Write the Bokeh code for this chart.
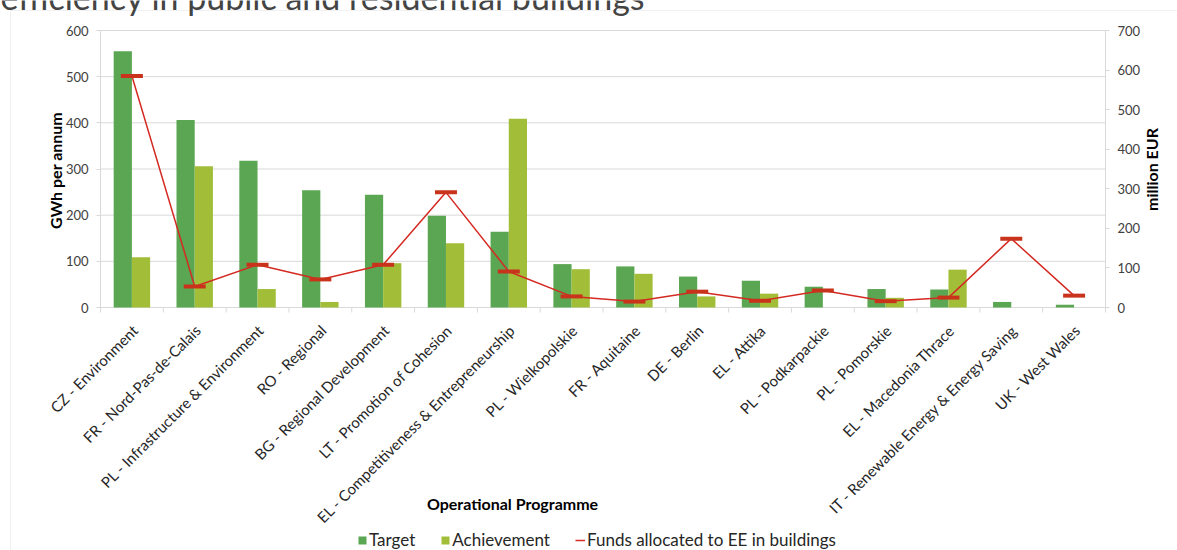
import math
from bokeh.plotting import figure
from bokeh.models import (Range1d, LinearAxis, FixedTicker, ColumnDataSource,
                          Legend, LegendItem, Label, BoxAnnotation)
from bokeh.core.properties import value
from bokeh.transform import dodge
from bokeh.embed import file_html
from bokeh.resources import INLINE

programmes = [
    "CZ - Environment", "FR - Nord-Pas-de-Calais", "PL - Infrastructure & Environment",
    "RO - Regional", "BG - Regional Development", "LT - Promotion of Cohesion",
    "EL - Competitiveness & Entrepreneurship", "PL - Wielkopolskie", "FR - Aquitaine",
    "DE - Berlin", "EL - Attika", "PL - Podkarpackie", "PL - Pomorskie",
    "EL - Macedonia Thrace", "IT - Renewable Energy & Energy Saving", "UK - West Wales",
]
target = [555, 406, 318, 254, 244, 199, 164, 94, 89, 67, 58, 45, 40, 39, 12, 6]
achievement = [109, 306, 40, 12, 96, 139, 409, 83, 73, 24, 30, 0, 21, 82, 0, 0]
funds = [585, 53, 108, 71, 108, 291, 91, 28, 15, 40, 17, 43, 16, 25, 174, 30]
left_ticks = [0, 100, 200, 300, 400, 500, 600]
right_ticks = [0, 100, 200, 300, 400, 500, 600, 700]

FONT = "Lato"
W, H = 1177, 550
# plot-area placement in pixels
PX_L, PX_R, PX_T, PX_B = 100, 1105, 30, 307
n = len(programmes)
CW = (PX_R - PX_L) / n
SL = (PX_B - PX_T) / left_ticks[-1]
SR = (PX_B - PX_T) / right_ticks[-1]


def xd(px):
    return -0.5 + (px - PX_L) / CW


def yd(py):
    return (PX_B - py) / SL


idx = list(range(n))
src = ColumnDataSource(dict(x=idx, target=target, achievement=achievement, funds=funds))

p = figure(width=W, height=H, output_backend="svg", toolbar_location=None,
           x_axis_location=None, y_axis_location=None,
           x_range=Range1d(xd(0), xd(W)), y_range=Range1d(yd(H), yd(0)),
           min_border=0)
p.outline_line_color = None
p.background_fill_color = "white"
p.border_fill_color = "white"
p.grid.visible = False
p.extra_y_ranges = {"eur": Range1d(-(H - PX_B) / SR, right_ticks[-1] + PX_T / SR)}

# outer panel frame
p.add_layout(BoxAnnotation(left=xd(10), right=xd(W + 50), top=yd(10), bottom=yd(H + 50),
                           fill_color=None, line_color="#D0D0D0", line_width=1, level="underlay"))

# horizontal grid lines across the plot area
grid_y = left_ticks[1:]
p.segment(x0=[-0.5] * len(grid_y), x1=[n - 0.5] * len(grid_y), y0=grid_y, y1=grid_y,
          line_color="#D9D9D9", line_width=1, level="underlay")
# category axis line and boundary ticks
p.segment(x0=[-0.5], x1=[n - 0.5], y0=[0], y1=[0], line_color="#D9D9D9", line_width=1)
p.ray(x=[i - 0.5 for i in range(n + 1)], y=[0] * (n + 1), length=5, length_units="screen",
      angle=-math.pi / 2, line_color="#D9D9D9", line_width=1)

bw = 0.29
vt = p.vbar(x=dodge("x", -bw / 2, range=p.x_range), top="target", width=bw, source=src,
            fill_color="#5BA652", line_color=None)
va = p.vbar(x=dodge("x", bw / 2, range=p.x_range), top="achievement", width=bw, source=src,
            fill_color="#A2BE39", line_color=None)
ln = p.line(x="x", y="funds", source=src, y_range_name="eur", line_color="#D42A22", line_width=1.5)
p.rect(x="x", y="funds", width=0.35, height=4, height_units="screen", source=src,
       y_range_name="eur", fill_color="#C9331B", line_color=None)

# category labels
p.text(x=idx, y=[0] * n, text=programmes, angle=math.pi / 4, text_align="right",
       text_baseline="middle", x_offset=3, y_offset=20, text_font=value(FONT),
       text_font_size="15px", text_color="#262626")

# value axes
ya = LinearAxis(ticker=FixedTicker(ticks=left_ticks), fixed_location=-0.5, bounds=(0, 600))
ra = LinearAxis(y_range_name="eur", ticker=FixedTicker(ticks=right_ticks), fixed_location=n - 0.5,
                bounds=(0, 700))
for ax in (ya, ra):
    ax.axis_line_color = "#D9D9D9"
    ax.major_tick_line_color = "#D9D9D9"
    ax.major_tick_out = 4
    ax.major_tick_in = 0
    ax.minor_tick_line_color = None
    ax.major_label_text_font = FONT
    ax.major_label_text_font_size = "13px"
    ax.major_label_text_color = "#404040"
    ax.major_label_standoff = 8
p.add_layout(ya, "left")
p.add_layout(ra, "right")

lab = dict(text_font=FONT, text_font_style="bold", text_color="black",
           text_align="center", text_baseline="middle")
p.add_layout(Label(x=xd(55), y=yd(170), text="GWh per annum", angle=math.pi / 2,
                   text_font_size="16px", **lab))
p.add_layout(Label(x=xd(1151), y=yd(169), text="million EUR", angle=math.pi / 2,
                   text_font_size="16px", **lab))
p.add_layout(Label(x=xd(512), y=yd(503), text="Operational Programme",
                   text_font_size="16px", **lab))

# page title, cut by the top edge
p.add_layout(Label(x=xd(0), y=yd(-4), text="efficiency in public and residential buildings",
                   text_font=FONT, text_font_size="34px", text_color="#444444",
                   text_baseline="alphabetic", text_align="left"))

legend = Legend(items=[LegendItem(label="Target", renderers=[vt]),
                       LegendItem(label="Achievement", renderers=[va]),
                       LegendItem(label="Funds allocated to EE in buildings", renderers=[ln])],
                orientation="horizontal", location=(357, 0),
                glyph_width=10, glyph_height=10, label_standoff=2, spacing=25,
                padding=0, margin=0, border_line_color=None, background_fill_alpha=0,
                label_text_font=FONT, label_text_font_size="17px", label_text_color="#262626")
p.add_layout(legend, "center")

open("out.html", "w").write(file_html(p, INLINE))
